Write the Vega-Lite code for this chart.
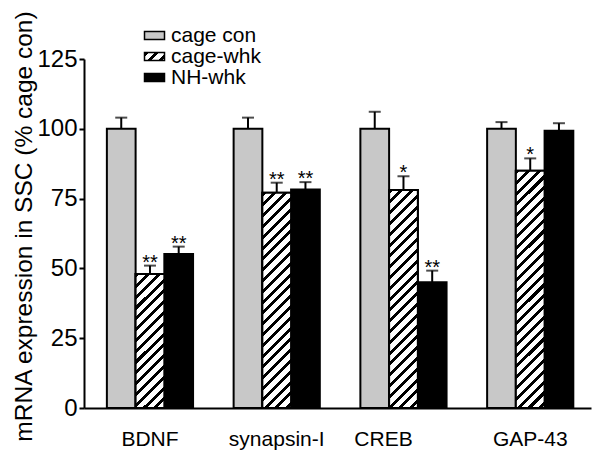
{
  "$schema": "https://vega.github.io/schema/vega-lite/v6.json",
  "width": 507,
  "height": 349,
  "autosize": {"type": "none"},
  "padding": {"left": 84, "top": 59, "right": 9, "bottom": 54},
  "background": "white",
  "params": [
    {"name": "hs", "value": [
      {"offset":0,"color":"#000"},{"offset":0.015,"color":"#000"},{"offset":0.015,"color":"#fff"},{"offset":0.04,"color":"#fff"},
      {"offset":0.04,"color":"#000"},{"offset":0.055,"color":"#000"},{"offset":0.055,"color":"#fff"},{"offset":0.08,"color":"#fff"},
      {"offset":0.08,"color":"#000"},{"offset":0.095,"color":"#000"},{"offset":0.095,"color":"#fff"},{"offset":0.12,"color":"#fff"},
      {"offset":0.12,"color":"#000"},{"offset":0.135,"color":"#000"},{"offset":0.135,"color":"#fff"},{"offset":0.16,"color":"#fff"},
      {"offset":0.16,"color":"#000"},{"offset":0.175,"color":"#000"},{"offset":0.175,"color":"#fff"},{"offset":0.2,"color":"#fff"},
      {"offset":0.2,"color":"#000"},{"offset":0.215,"color":"#000"},{"offset":0.215,"color":"#fff"},{"offset":0.24,"color":"#fff"},
      {"offset":0.24,"color":"#000"},{"offset":0.255,"color":"#000"},{"offset":0.255,"color":"#fff"},{"offset":0.28,"color":"#fff"},
      {"offset":0.28,"color":"#000"},{"offset":0.295,"color":"#000"},{"offset":0.295,"color":"#fff"},{"offset":0.32,"color":"#fff"},
      {"offset":0.32,"color":"#000"},{"offset":0.335,"color":"#000"},{"offset":0.335,"color":"#fff"},{"offset":0.36,"color":"#fff"},
      {"offset":0.36,"color":"#000"},{"offset":0.375,"color":"#000"},{"offset":0.375,"color":"#fff"},{"offset":0.4,"color":"#fff"},
      {"offset":0.4,"color":"#000"},{"offset":0.415,"color":"#000"},{"offset":0.415,"color":"#fff"},{"offset":0.44,"color":"#fff"},
      {"offset":0.44,"color":"#000"},{"offset":0.455,"color":"#000"},{"offset":0.455,"color":"#fff"},{"offset":0.48,"color":"#fff"},
      {"offset":0.48,"color":"#000"},{"offset":0.495,"color":"#000"},{"offset":0.495,"color":"#fff"},{"offset":0.52,"color":"#fff"},
      {"offset":0.52,"color":"#000"},{"offset":0.535,"color":"#000"},{"offset":0.535,"color":"#fff"},{"offset":0.56,"color":"#fff"},
      {"offset":0.56,"color":"#000"},{"offset":0.575,"color":"#000"},{"offset":0.575,"color":"#fff"},{"offset":0.6,"color":"#fff"},
      {"offset":0.6,"color":"#000"},{"offset":0.615,"color":"#000"},{"offset":0.615,"color":"#fff"},{"offset":0.64,"color":"#fff"},
      {"offset":0.64,"color":"#000"},{"offset":0.655,"color":"#000"},{"offset":0.655,"color":"#fff"},{"offset":0.68,"color":"#fff"},
      {"offset":0.68,"color":"#000"},{"offset":0.695,"color":"#000"},{"offset":0.695,"color":"#fff"},{"offset":0.72,"color":"#fff"},
      {"offset":0.72,"color":"#000"},{"offset":0.735,"color":"#000"},{"offset":0.735,"color":"#fff"},{"offset":0.76,"color":"#fff"},
      {"offset":0.76,"color":"#000"},{"offset":0.775,"color":"#000"},{"offset":0.775,"color":"#fff"},{"offset":0.8,"color":"#fff"},
      {"offset":0.8,"color":"#000"},{"offset":0.815,"color":"#000"},{"offset":0.815,"color":"#fff"},{"offset":0.84,"color":"#fff"},
      {"offset":0.84,"color":"#000"},{"offset":0.855,"color":"#000"},{"offset":0.855,"color":"#fff"},{"offset":0.88,"color":"#fff"},
      {"offset":0.88,"color":"#000"},{"offset":0.895,"color":"#000"},{"offset":0.895,"color":"#fff"},{"offset":0.92,"color":"#fff"},
      {"offset":0.92,"color":"#000"},{"offset":0.935,"color":"#000"},{"offset":0.935,"color":"#fff"},{"offset":0.96,"color":"#fff"},
      {"offset":0.96,"color":"#000"},{"offset":0.975,"color":"#000"},{"offset":0.975,"color":"#fff"},{"offset":1,"color":"#fff"}
    ]}
  ],
  "data": {"values": [
    {"gene":"BDNF","group":"cage con","value":100,"upper":104,"sig":""},
    {"gene":"BDNF","group":"cage-whk","value":48,"upper":51,"sig":"**"},
    {"gene":"BDNF","group":"NH-whk","value":55.2,"upper":57.8,"sig":"**"},
    {"gene":"synapsin-I","group":"cage con","value":100,"upper":104,"sig":""},
    {"gene":"synapsin-I","group":"cage-whk","value":77.1,"upper":80.7,"sig":"**"},
    {"gene":"synapsin-I","group":"NH-whk","value":78.3,"upper":80.9,"sig":"**"},
    {"gene":"CREB","group":"cage con","value":100,"upper":106.1,"sig":""},
    {"gene":"CREB","group":"cage-whk","value":78.1,"upper":83,"sig":"*"},
    {"gene":"CREB","group":"NH-whk","value":45,"upper":49.2,"sig":"**"},
    {"gene":"GAP-43","group":"cage con","value":100,"upper":102.4,"sig":""},
    {"gene":"GAP-43","group":"cage-whk","value":85,"upper":89.4,"sig":"*"},
    {"gene":"GAP-43","group":"NH-whk","value":99.3,"upper":102,"sig":""}
  ]},
  "encoding": {
    "x": {
      "field": "gene", "type": "nominal",
      "sort": ["BDNF","synapsin-I","CREB","GAP-43"],
      "scale": {"type": "band", "paddingInner": 0.32, "paddingOuter": 0.16, "align": 0.564},
      "axis": {"title": null, "labelAngle": 0, "ticks": false, "labelFontSize": 21, "labelPadding": 20,
               "domainColor": "black", "domainWidth": 2, "labelColor": "black",
               "labelOffset": {"condition": {"test": "datum.value === 'CREB'", "value": -20}, "value": 0}}
    },
    "xOffset": {
      "field": "group", "type": "nominal",
      "sort": ["cage con","cage-whk","NH-whk"],
      "scale": {"paddingInner": 0, "paddingOuter": 0}
    },
    "y": {
      "field": "value", "type": "quantitative",
      "scale": {"domain": [0,125], "nice": false},
      "axis": {"title": "mRNA expression in SSC (% cage con)", "titleFontSize": 24.5, "titleFontWeight": "normal",
               "titleColor": "black", "titlePadding": 0, "titleY": 167, "grid": false, "values": [0,25,50,75,100,125],
               "labelFontSize": 24, "labelPadding": 2, "labelColor": "black", "tickSize": 5, "tickWidth": 2,
               "tickColor": "black", "domainColor": "black", "domainWidth": 2}
    }
  },
  "layer": [
    {
      "mark": {"type": "bar", "stroke": "black", "strokeWidth": 2, "opacity": 1},
      "encoding": {
        "fill": {
          "field": "group", "type": "nominal",
          "scale": {"domain": ["cage con","cage-whk","NH-whk"], "range": [
            "#c8c8c8",
            {"expr": "{gradient: 'linear', x1: 0, y1: 0, x2: 11.64, y2: 4.66, stops: hs}"},
            "#000000"]},
          "legend": {
            "orient": "none", "legendX": 60, "legendY": -34, "title": null, "columns": 1,
            "symbolType": "M-1.25,-0.5H1.25V0.5H-1.25Z", "symbolSize": 256, "symbolStrokeColor": "black",
            "symbolStrokeWidth": 1.5, "symbolOpacity": 1,
            "labelFontSize": 21, "labelOffset": 6, "labelColor": "black", "rowPadding": -4, "padding": 0,
            "encode": {"symbols": {"update": {
              "stroke": {"value": "black"},
              "strokeWidth": {"value": 1.5},
              "opacity": {"value": 1}
            }}}
          }
        }
      }
    },
    {
      "transform": [{"filter": "datum.group === 'cage-whk'"}],
      "mark": {"type": "bar", "stroke": "black", "strokeWidth": 2,
               "fill": {"expr": "{gradient: 'linear', x1: 0, y1: 0, x2: 270*28.7/(28.7*28.7 + pow(datum.value*2.792, 2)), y2: 270*datum.value*2.792/(28.7*28.7 + pow(datum.value*2.792, 2)), stops: hs}"}}
    },
    {
      "mark": {"type": "rule", "color": "black", "strokeWidth": 2},
      "encoding": {"y2": {"field": "upper"}}
    },
    {
      "mark": {"type": "tick", "color": "black", "thickness": 2, "size": 12, "orient": "horizontal"},
      "encoding": {"y": {"field": "upper", "type": "quantitative"}}
    },
    {
      "transform": [{"filter": "datum.sig !== ''"}],
      "mark": {"type": "text", "color": "black", "fontSize": 20, "dy": 3, "baseline": "alphabetic", "align": "center"},
      "encoding": {"y": {"field": "upper", "type": "quantitative"}, "text": {"field": "sig"}}
    }
  ],
  "config": {"view": {"stroke": null}, "font": "Liberation Sans"}
}
